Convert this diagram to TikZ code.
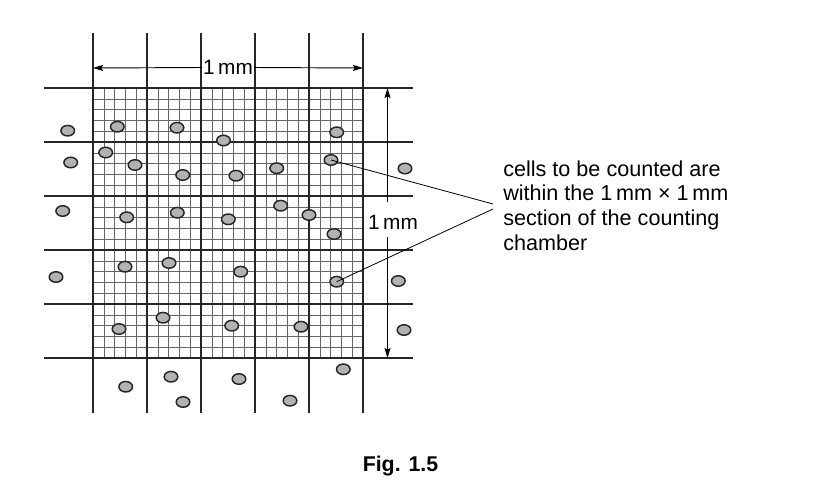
\documentclass[tikz,border=0pt]{standalone}
\usepackage{fontspec}
\setmainfont{Liberation Sans}
\usetikzlibrary{arrows.meta,shapes.geometric}
\begin{document}
\begin{tikzpicture}[x=0.75pt,y=-0.75pt,
  major/.style={line width=1.25pt,draw=black!85},
  fine/.style={line width=0.45pt,draw=black!60},
  cell/.style={ellipse,draw=black!85,line width=1.1pt,fill=black!30,minimum width=10.2pt,minimum height=7.9pt,inner sep=0pt},
  dim/.style={line width=0.7pt,-{Stealth[length=7.5pt,width=4.5pt,inset=1.2pt]}},
  lead/.style={line width=0.6pt,draw=black},
  lbl/.style={font=\fontsize{15.6}{18.4}\selectfont,inner sep=0.6pt},
]
\useasboundingbox (0,0) rectangle (838,503);
% fine grid
\foreach \i in {1,...,24} {
  \draw[fine] ({93+\i*10.8},88) -- ({93+\i*10.8},358);
  \draw[fine] (93,{88+\i*10.8}) -- (363,{88+\i*10.8});
}
% major grid
\foreach \i in {0,...,5} {
  \draw[major] ({93+\i*54},33) -- ({93+\i*54},413);
  \draw[major] (44,{88+\i*54}) -- (413,{88+\i*54});
}
% cells
\foreach \x/\y [count=\i] in {
  67.7/130.7, 117.3/126.7, 177/127.7, 223.5/140.5, 336.7/132.3,
  70.7/162.5, 105.7/152.5, 135/165, 182.7/175, 236/175.7, 276.7/168.2, 331/160, 405/168.5,
  62.7/211, 126.7/217.3, 177.3/212.7, 228.3/219.3, 280.7/205.7, 309/215, 334/234,
  56/277, 125/266.7, 169/263, 240.7/271.7, 336.7/281.7, 398.3/281,
  119/329, 163/317.7, 231.7/325.7, 301/326.7, 404/330,
  125.7/386.7, 171/376.7, 183/402, 239/379, 290/400.7, 343.3/369.3}
  \node[cell] (c\i) at (\x,\y) {};
% horizontal dimension
\node[lbl] (hlab) at (228,67.5) {1\,mm};
\coordinate (hl) at (93,68);
\coordinate (hr) at (363,68);
\draw[dim] (hlab.west) -- (hl);
\draw[dim] (hlab.east) -- (hr);
% vertical dimension
\node[lbl] (vlab) at (393,222) {1\,mm};
\coordinate (vt) at (387.5,88);
\coordinate (vb) at (387.5,358);
\coordinate (vg1) at (387.5,202);
\coordinate (vg2) at (387.5,237);
\draw[dim] (vg1) -- (vt);
\draw[dim] (vg2) -- (vb);
% annotation
\node[font=\fontsize{16.2}{18.4}\selectfont,align=left,anchor=north west,inner sep=0pt] (note) at (503,160.5)
  {cells to be counted are\\within the 1\,mm × 1\,mm\\section of the counting\\chamber};
\coordinate (p1) at (493,204);
\coordinate (p2) at (493,209);
\draw[lead] (c12.center) -- (p1);
\draw[lead] (c25.center) -- (p2);
% caption
\node[font=\fontsize{16}{19}\selectfont\bfseries,anchor=base,inner sep=0pt] (cap) at (400.5,471.5) {Fig. 1.5};
\end{tikzpicture}
\end{document}
